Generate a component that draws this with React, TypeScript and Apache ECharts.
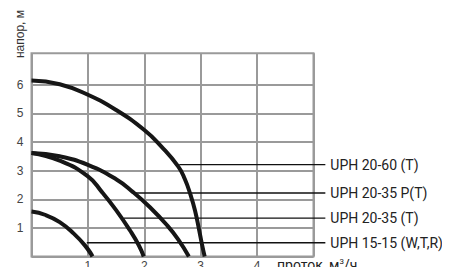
import React, { useEffect, useRef } from "react";
import * as echarts from "echarts";

// Pump curves: [flow m³/h, head m]
const curve2060: number[][] = [[0, 6.15], [0.5, 6.02], [1, 5.65], [1.5, 5.12], [2, 4.42], [2.3, 3.85], [2.6, 3.15], [2.72, 2.7], [2.82, 2.15], [2.9, 1.6], [2.97, 0.95], [3.02, 0.45], [3.07, 0]];
const curve2035P: number[][] = [[0, 3.62], [0.5, 3.5], [1, 3.2], [1.5, 2.7], [1.8, 2.25], [2.1, 1.72], [2.4, 1.1], [2.6, 0.6], [2.79, 0]];
const curve2035: number[][] = [[0, 3.62], [0.5, 3.35], [1, 2.8], [1.25, 2.25], [1.5, 1.62], [1.75, 0.9], [1.9, 0.4], [1.99, 0]];
const curve1515: number[][] = [[0, 1.57], [0.25, 1.45], [0.5, 1.2], [0.75, 0.8], [0.95, 0.38], [1.08, 0]];

const curves = [curve2060, curve2035P, curve2035, curve1515];
const labels = ["UPH 20-60 (T)", "UPH 20-35 P(T)", "UPH 20-35 (T)", "UPH 15-15 (W,T,R)"];
const labelY = [3.21, 2.22, 1.34, 0.48];
const labelStartX = [2.62, 1.8, 1.64, 0.98];
const labelEndX = 5.21;

const xTicks = [1, 2, 3, 4];
const yTicks = [0, 1, 2, 3, 4, 5, 6];

export default function App() {
  const ref = useRef<HTMLDivElement>(null);
  useEffect(() => {
    if (!ref.current) return;
    const chart = echarts.init(ref.current, null, { renderer: "svg" });
    const grid = "#9a9a9a";
    const left = 31.5;
    const right = 313.5;
    const unit = (right - left) / 5;
    const series: any[] = [];
    labels.forEach((name, i) => {
      series.push({
        type: "line",
        name,
        xAxisIndex: 1,
        yAxisIndex: 1,
        data: [[labelStartX[i], labelY[i]], [labelEndX, labelY[i]]],
        showSymbol: false,
        clip: false,
        lineStyle: { color: "#111", width: 1.4 },
        endLabel: {
          show: true,
          formatter: "{a}",
          distance: 5,
          color: "#222",
          fontSize: 14,
          fontFamily: "Roboto",
        },
        z: 3,
      });
    });
    curves.forEach((c, i) => {
      series.push({
        type: "line",
        name: "curve" + i,
        data: c,
        smooth: 0.5,
        showSymbol: false,
        lineStyle: { color: "#161616", width: 4 },
        z: 4,
      });
    });
    chart.setOption({
      animation: false,
      grid: [
        {
          left,
          top: 53.3,
          right: 450 - right,
          bottom: 275 - 256.5,
          show: true,
          borderColor: grid,
          borderWidth: 2,
        },
        {
          left,
          top: 53.3,
          right: 450 - (left + unit * labelEndX),
          bottom: 275 - 256.5,
          show: false,
        },
      ],
      xAxis: [
        {
          type: "value",
          min: 0,
          max: 5,
          interval: 1,
          axisLine: { show: false },
          axisTick: { show: false },
          splitLine: { show: true, lineStyle: { color: grid, width: 2 } },
          axisLabel: {
            color: "#444",
            fontSize: 12,
            lineHeight: 12,
            fontFamily: "Liberation Sans",
            margin: 3,
            formatter: (v: number) => (xTicks.indexOf(v) >= 0 ? String(v) : ""),
          },
          name: "проток, м{sup|3}/ч",
          nameLocation: "end",
          nameGap: -36.5,
          nameTextStyle: {
            color: "#222",
            fontSize: 14,
            lineHeight: 14,
            fontFamily: "Roboto",
            align: "left",
            verticalAlign: "top",
            padding: [1, 0, 0, 0],
            rich: {
              sup: { fontSize: 8, lineHeight: 14, fontFamily: "Roboto", color: "#222", padding: [0, 0, 7, 0] },
            },
          },
        },
        {
          type: "value",
          gridIndex: 1,
          min: 0,
          max: labelEndX,
          show: false,
          splitLine: { show: false },
        },
      ],
      yAxis: [
        {
          type: "value",
          min: 0,
          max: 7.1,
          interval: 1,
          axisLine: { show: false },
          axisTick: { show: false, customValues: yTicks },
          splitLine: { show: true, lineStyle: { color: grid, width: 2 } },
          axisLabel: {
            color: "#444",
            fontSize: 12,
            fontFamily: "Liberation Sans",
            margin: 8,
            customValues: yTicks,
            formatter: (v: number) => (v > 0 && v <= 6 ? String(v) : ""),
          },
        },
        {
          type: "value",
          gridIndex: 1,
          min: 0,
          max: 7.1,
          show: false,
          splitLine: { show: false },
        },
      ],
      graphic: [
        {
          type: "text",
          x: 20,
          y: 34,
          rotation: Math.PI / 2,
          style: {
            text: "напор, м",
            fontSize: 12,
            fontFamily: "Liberation Sans",
            fill: "#333",
            align: "center",
            verticalAlign: "middle",
          },
        },
      ],
      series,
    });
    return () => chart.dispose();
  }, []);
  return <div ref={ref} style={{ width: 450, height: 275, margin: -8 }} />;
}
